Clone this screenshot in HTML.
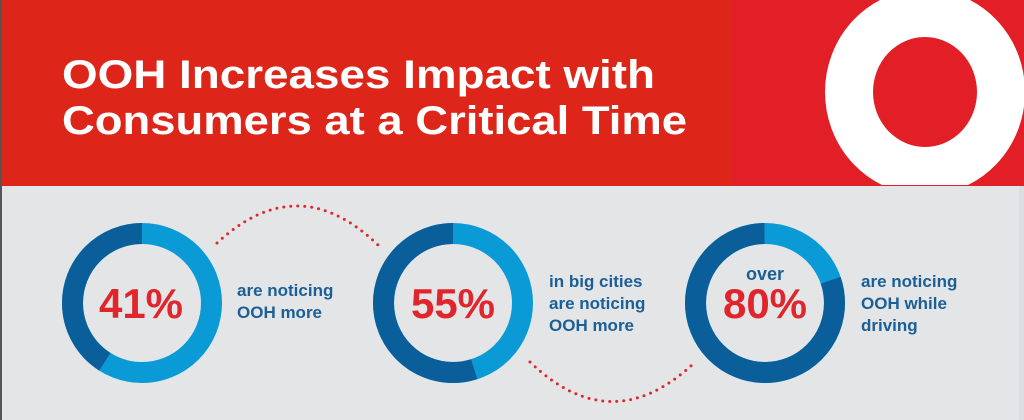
<!DOCTYPE html>
<html><head><meta charset="utf-8"><style>
html,body{margin:0;padding:0;background:#e4e5e7}
svg{display:block}
text{font-family:"Liberation Sans",sans-serif;font-weight:bold}
</style></head><body>
<svg width="1024" height="420" viewBox="0 0 1024 420" xmlns="http://www.w3.org/2000/svg">
<rect width="1024" height="420" fill="#e4e5e7"/>
<rect x="0" y="0" width="1024" height="186" fill="#dd2619"/>
<rect x="732" y="0" width="292" height="186" fill="#e21e26"/>
<rect x="0" y="0" width="2" height="420" fill="#555"/>
<rect x="1019" y="186" width="5" height="234" fill="#dcdde0"/>
<defs><clipPath id="hc"><rect x="0" y="0" width="1024" height="185"/></clipPath></defs>
<g clip-path="url(#hc)">
<ellipse cx="925" cy="92" rx="76" ry="79" fill="none" stroke="#fff" stroke-width="48"/>
</g>
<text x="62" y="88" font-size="40" fill="#fff" textLength="593" lengthAdjust="spacingAndGlyphs">OOH Increases Impact with</text>
<text x="62" y="134" font-size="40" fill="#fff" textLength="625" lengthAdjust="spacingAndGlyphs">Consumers at a Critical Time</text>

<g fill="none" stroke-width="21">
<!-- ring1 -->
<circle cx="142" cy="303" r="69.5" stroke="#0a9ad6"/>
<circle cx="142" cy="303" r="69.5" stroke="#0a5f9b" stroke-dasharray="179 1000" stroke-dashoffset="-257.5" transform="rotate(-90 142 303)"/>
<!-- ring2 -->
<circle cx="453" cy="303" r="69.5" stroke="#0a9ad6"/>
<circle cx="453" cy="303" r="69.5" stroke="#0a5f9b" stroke-dasharray="240 1000" stroke-dashoffset="-196.7" transform="rotate(-90 453 303)"/>
<!-- ring3 -->
<circle cx="765" cy="303" r="69.5" stroke="#0a9ad6"/>
<circle cx="765" cy="303" r="69.5" stroke="#0a5f9b" stroke-dasharray="350 1000" stroke-dashoffset="-86" transform="rotate(-90 765 303)"/>
</g>

<g fill="none" stroke="#e0252c" stroke-width="3" stroke-linecap="round" stroke-dasharray="0 7">
<path d="M217 243 Q298 168 378 245"/>
<path d="M530 362 Q611 440 693 364"/>
</g>

<g fill="#e0252c" text-anchor="middle">
<text x="141" y="318" font-size="42">41%</text>
<text x="453" y="318" font-size="42">55%</text>
<text x="765" y="318" font-size="42">80%</text>
</g>
<text x="765" y="280" font-size="18" fill="#1a5f96" text-anchor="middle">over</text>
<g fill="#1a5f96" font-size="17">
<text x="237" y="296">are noticing</text>
<text x="237" y="318">OOH more</text>
<text x="549" y="287">in big cities</text>
<text x="549" y="309">are noticing</text>
<text x="549" y="331">OOH more</text>
<text x="861" y="287">are noticing</text>
<text x="861" y="309">OOH while</text>
<text x="861" y="331">driving</text>
</g>
</svg>
</body></html>
